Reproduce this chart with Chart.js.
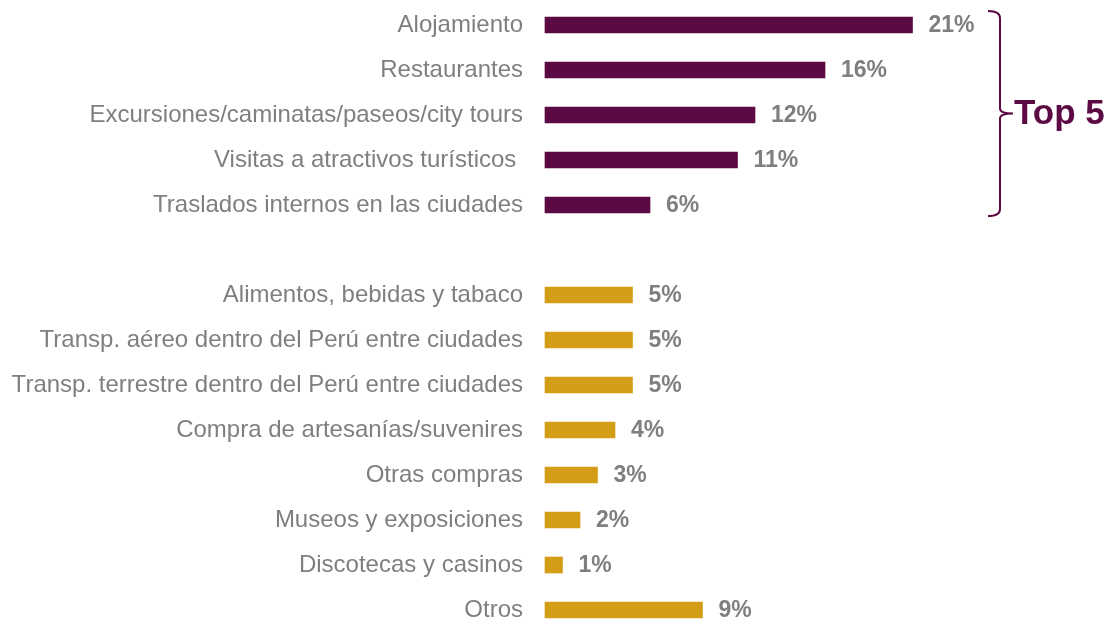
<!DOCTYPE html>
<html>
<head>
<meta charset="utf-8">
<script src="https://cdn.jsdelivr.net/npm/chart.js@4"></script>
<style>
  body { margin: 0; background: #fff; }
  #wrap { width: 1111px; height: 621px; }
</style>
</head>
<body>
<div id="wrap"><canvas id="myChart"></canvas></div>
<script>
// top 5 expenses, then the rest (a blank row separates the groups)
const top5Labels = ['Alojamiento', 'Restaurantes', 'Excursiones/caminatas/paseos/city tours', 'Visitas a atractivos turísticos ', 'Traslados internos en las ciudades'];
const top5Values = [21, 16, 12, 11, 6];
const restLabels = ['Alimentos, bebidas y tabaco', 'Transp. aéreo dentro del Perú entre ciudades', 'Transp. terrestre dentro del Perú entre ciudades', 'Compra de artesanías/suvenires', 'Otras compras', 'Museos y exposiciones', 'Discotecas y casinos', 'Otros'];
const restValues = [5, 5, 5, 4, 3, 2, 1, 9];
const braceText = 'Top 5';

const purple = '#5c0a43';
const gold = '#d49d18';
const grey = '#7f7f7f';

const labels = [...top5Labels, '', ...restLabels];
const values = [...top5Values, null, ...restValues];
const colors = [...top5Values.map(() => purple), 'rgba(0,0,0,0)', ...restValues.map(() => gold)];

const valueLabels = {
    id: 'valueLabels',
    afterDatasetsDraw(chart) {
        const ctx = chart.ctx;
        const meta = chart.getDatasetMeta(0);
        ctx.save();
        ctx.font = 'bold 23px "Liberation Sans", Arial, sans-serif';
        ctx.fillStyle = grey;
        ctx.textAlign = 'left';
        ctx.textBaseline = 'middle';
        meta.data.forEach((bar, i) => {
            if (values[i] == null) return;
            ctx.fillText(values[i] + '%', bar.x + 16, bar.y + 1);
        });
        ctx.restore();
    }
};

const topBrace = {
    id: 'topBrace',
    afterDraw(chart) {
        const ctx = chart.ctx;
        const y = chart.scales.y;
        const y0 = y.getPixelForValue(0) - 14;
        const y1 = y.getPixelForValue(top5Values.length - 1) + 11;
        const ym = (y0 + y1) / 2;
        const x = 1000;
        ctx.save();
        ctx.strokeStyle = purple;
        ctx.lineWidth = 2;
        ctx.beginPath();
        ctx.moveTo(x - 12, y0);
        ctx.quadraticCurveTo(x, y0, x, y0 + 7);
        ctx.lineTo(x, ym - 5);
        ctx.quadraticCurveTo(x, ym, x + 13, ym);
        ctx.moveTo(x + 13, ym);
        ctx.quadraticCurveTo(x, ym, x, ym + 5);
        ctx.lineTo(x, y1 - 7);
        ctx.quadraticCurveTo(x, y1, x - 12, y1);
        ctx.stroke();
        ctx.font = 'bold 35px "Liberation Sans", Arial, sans-serif';
        ctx.fillStyle = purple;
        ctx.textAlign = 'left';
        ctx.textBaseline = 'middle';
        ctx.fillText(braceText, x + 14, ym + 1);
        ctx.restore();
    }
};

const ctx = document.getElementById('myChart').getContext('2d');
const myChart = new Chart(ctx, {
    type: 'bar',
    data: {
        labels: labels,
        datasets: [{
            data: values,
            backgroundColor: colors,
            barThickness: 16,
            clip: false
        }]
    },
    options: {
        indexAxis: 'y',
        responsive: true,
        maintainAspectRatio: false,
        animation: false,
        layout: { padding: { top: 25, bottom: 11, left: 0, right: 128.5 } },
        plugins: {
            legend: { display: false },
            tooltip: { enabled: false }
        },
        scales: {
            x: {
                display: false,
                min: 0,
                max: 25
            },
            y: {
                offset: false,
                grid: { display: false, drawTicks: false },
                border: { display: false },
                ticks: {
                    autoSkip: false,
                    padding: 22,
                    color: grey,
                    font: { family: '"Liberation Sans", Arial, sans-serif', size: 24 }
                },
                afterFit(scale) {
                    scale.width = 545;
                    scale.paddingTop = 0;
                    scale.paddingBottom = 0;
                }
            }
        }
    },
    plugins: [valueLabels, topBrace]
});
</script>
</body>
</html>
